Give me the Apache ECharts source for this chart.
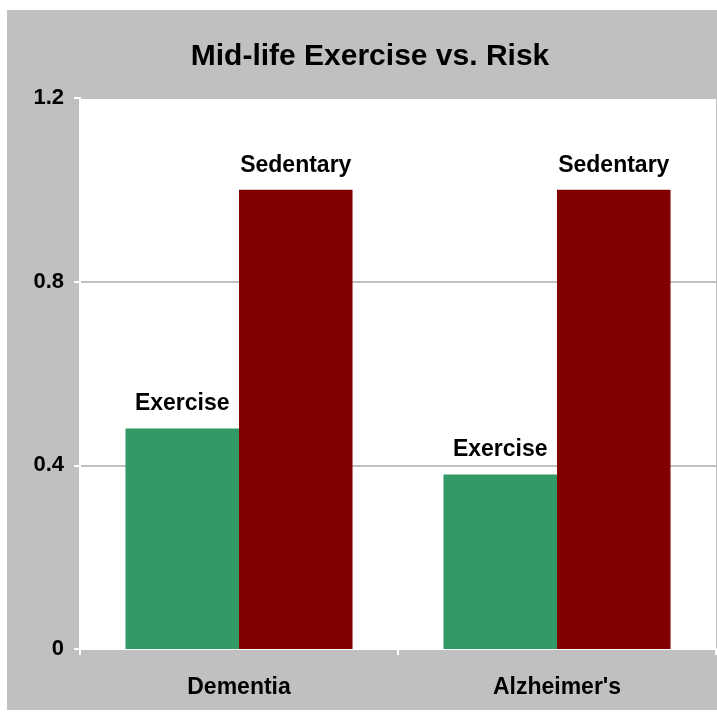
<!DOCTYPE html>
<html>
<head>
<meta charset="utf-8">
<script src="https://cdn.jsdelivr.net/npm/echarts@6/dist/echarts.min.js"></script>
<style>
  html, body { margin: 0; padding: 0; background: #fff; }
  #wrap {
    position: absolute;
    left: 7px;
    top: 10px;
    width: 710px;
    height: 700px;
    background: #c0c0c0;
  }
  #chart { width: 100%; height: 100%; }
</style>
</head>
<body>
<div id="wrap"><div id="chart"></div></div>
<script>
// data
const categories = ["Dementia", "Alzheimer's"];
const exercise = [0.48, 0.38];
const sedentary = [1.0, 1.0];
const yTicks = [0, 0.4, 0.8, 1.2];

const FONT = "Arial, 'Liberation Sans', sans-serif";

let myChart = echarts.init(document.getElementById("chart"));

let barLabel = {
  show: true,
  position: "top",
  distance: 13,
  formatter: "{a}",
  color: "#000",
  fontFamily: FONT,
  fontWeight: "bold",
  fontSize: 23,
};

let option = {
  animation: false,
  backgroundColor: "#c0c0c0",
  title: {
    text: "Mid-life Exercise vs. Risk",
    left: 358,
    top: 27,
    textAlign: "center",
    textStyle: {
      color: "#000",
      fontFamily: FONT,
      fontWeight: "bold",
      fontSize: 30,
    },
  },
  grid: {
    left: 73,
    right: 1,
    top: 88,
    bottom: 61,
    show: true,
    backgroundColor: "#fff",
    borderWidth: 0,
  },
  xAxis: {
    type: "category",
    data: categories,
    axisLine: { show: true, lineStyle: { color: "#fff", width: 2 } },
    axisTick: { show: true, length: 6, lineStyle: { color: "#fff", width: 2 } },
    axisLabel: {
      margin: 27,
      color: "#000",
      fontFamily: FONT,
      fontWeight: "bold",
      fontSize: 23,
    },
  },
  yAxis: {
    type: "value",
    min: yTicks[0],
    max: yTicks[yTicks.length - 1],
    interval: 0.4,
    axisLine: { show: true, lineStyle: { color: "#fff", width: 2 } },
    axisTick: { show: true, length: 6, lineStyle: { color: "#fff", width: 2 } },
    axisLabel: {
      margin: 16,
      color: "#000",
      fontFamily: FONT,
      fontWeight: "bold",
      fontSize: 22,
    },
    splitLine: { show: true, lineStyle: { color: "#c0c0c0", width: 2 } },
  },
  series: [
    {
      name: "Exercise",
      type: "bar",
      data: exercise,
      barGap: "0%",
      barCategoryGap: "28.6%",
      itemStyle: { color: "#339966" },
      label: barLabel,
    },
    {
      name: "Sedentary",
      type: "bar",
      data: sedentary,
      barGap: "0%",
      barCategoryGap: "28.6%",
      itemStyle: { color: "#800000" },
      label: barLabel,
    },
  ],
};

myChart.setOption(option);
window.addEventListener("resize", function () {
  myChart.resize();
});
</script>
</body>
</html>
